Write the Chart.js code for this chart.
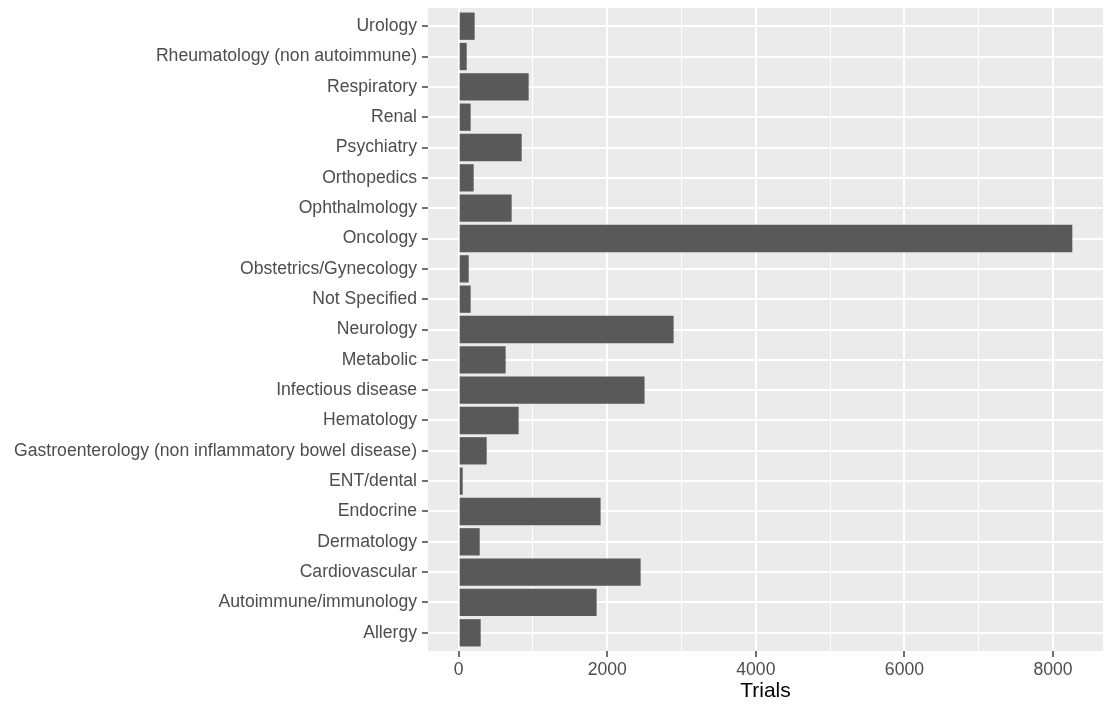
<!DOCTYPE html>
<html>
<head>
<meta charset="utf-8">
<script src="https://cdn.jsdelivr.net/npm/chart.js@4"></script>
<style>
  html, body { margin: 0; padding: 0; background: #ffffff; }
  #wrap { width: 1106px; height: 706px; }
</style>
</head>
<body>
<div id="wrap"><canvas id="trialsChart"></canvas></div>
<script>
// categories, bottom to top (as in the ggplot factor order)
const areas = [
    "Allergy",
    "Autoimmune/immunology",
    "Cardiovascular",
    "Dermatology",
    "Endocrine",
    "ENT/dental",
    "Gastroenterology (non inflammatory bowel disease)",
    "Hematology",
    "Infectious disease",
    "Metabolic",
    "Neurology",
    "Not Specified",
    "Obstetrics/Gynecology",
    "Oncology",
    "Ophthalmology",
    "Orthopedics",
    "Psychiatry",
    "Renal",
    "Respiratory",
    "Rheumatology (non autoimmune)",
    "Urology"
];
const trials = [296, 1857, 2449, 283, 1910, 54, 377, 807, 2502, 632, 2893, 161, 135, 8260, 713, 202, 848, 161, 942, 108, 215];
const xTicks = [0, 1000, 2000, 3000, 4000, 5000, 6000, 7000, 8000];
const xLabelStep = 2000;

document.addEventListener("DOMContentLoaded", function () {
    const ctx = document.getElementById("trialsChart").getContext("2d");
    const font = "'Liberation Sans', Arial, sans-serif";
    const xMax = Math.max(...trials);

    const panelBg = {
        id: "panelBg",
        beforeDraw(chart) {
            const a = chart.chartArea;
            const c = chart.ctx;
            c.save();
            c.fillStyle = "#EBEBEB";
            c.fillRect(a.left, a.top, a.right - a.left, a.bottom - a.top);
            c.restore();
        }
    };

    new Chart(ctx, {
        type: "bar",
        data: {
            datasets: [{
                label: "Trials",
                data: trials.map((v, i) => ({ x: v, y: i })),
                backgroundColor: "#595959",
                borderWidth: 0,
                barPercentage: 0.9,
                categoryPercentage: 1
            }]
        },
        options: {
            indexAxis: "y",
            responsive: true,
            maintainAspectRatio: false,
            animation: false,
            layout: { padding: { left: 0, top: 8, right: 3, bottom: 0 } },
            plugins: {
                legend: { display: false },
                tooltip: { enabled: false }
            },
            scales: {
                x: {
                    type: "linear",
                    min: -0.05 * xMax,
                    max: 1.05 * xMax,
                    afterBuildTicks: function (scale) {
                        scale.ticks = xTicks.map(v => ({ value: v }));
                    },
                    afterFit: function (scale) {
                        scale.height = 55;
                        scale.paddingLeft = 0;
                        scale.paddingRight = 0;
                    },
                    border: { display: false },
                    grid: {
                        color: "#FFFFFF",
                        lineWidth: c => (c.tick && c.tick.value % xLabelStep === 0) ? 2 : 1,
                        tickColor: c => (c.tick && c.tick.value % xLabelStep === 0) ? "#333333" : "rgba(0,0,0,0)",
                        tickWidth: 1.4,
                        tickLength: 6
                    },
                    ticks: {
                        autoSkip: false,
                        maxRotation: 0,
                        padding: 3,
                        color: "#4D4D4D",
                        font: { family: font, size: 17.6 },
                        callback: v => (v % xLabelStep === 0) ? String(v) : ""
                    },
                    title: {
                        display: true,
                        text: "Trials",
                        color: "#000000",
                        font: { family: font, size: 21 },
                        padding: { top: 0, bottom: 2 }
                    }
                },
                y: {
                    type: "linear",
                    offset: false,
                    min: -0.6,
                    max: areas.length - 1 + 0.6,
                    afterBuildTicks: function (scale) {
                        scale.ticks = areas.map((_, i) => ({ value: i }));
                    },
                    afterFit: function (scale) {
                        scale.width = 428;
                        scale.paddingTop = 0;
                        scale.paddingBottom = 0;
                    },
                    border: { display: false },
                    grid: {
                        offset: false,
                        color: "#FFFFFF",
                        lineWidth: 2,
                        tickColor: "#333333",
                        tickWidth: 1.4,
                        tickLength: 6
                    },
                    ticks: {
                        autoSkip: false,
                        padding: 5,
                        color: "#4D4D4D",
                        font: { family: font, size: 17.6 },
                        callback: v => areas[v] || ""
                    }
                }
            }
        },
        plugins: [panelBg]
    });
});
</script>
</body>
</html>
